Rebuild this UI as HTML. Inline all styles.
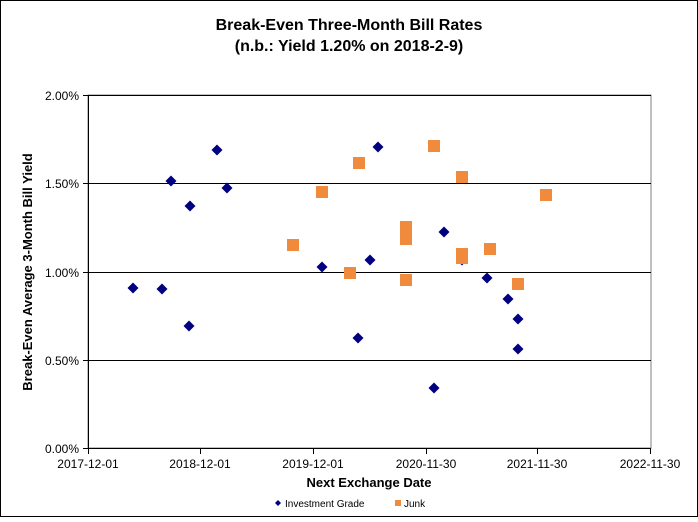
<!DOCTYPE html>
<html><head><style>
body{margin:0;background:#fff}
svg text{font-family:"Liberation Sans",Arial,sans-serif}
</style></head><body>
<svg width="698" height="517" xmlns="http://www.w3.org/2000/svg">
<rect x="0.5" y="0.5" width="697" height="516" fill="#fff" stroke="#000"/>
<text x="349" y="30" text-anchor="middle" font-size="16" font-weight="bold">Break-Even Three-Month Bill Rates</text>
<text x="349" y="51" text-anchor="middle" font-size="16" font-weight="bold">(n.b.: Yield 1.20% on 2018-2-9)</text>
<rect x="88" y="95" width="563" height="353" fill="#fff" stroke="#808080"/>
<g stroke="#000" stroke-width="1">
<line x1="88" y1="95.5" x2="651" y2="95.5"/>
<line x1="88" y1="183.5" x2="651" y2="183.5"/>
<line x1="88" y1="272.5" x2="651" y2="272.5"/>
<line x1="88" y1="360.5" x2="651" y2="360.5"/>
<line x1="88" y1="448.5" x2="651" y2="448.5"/>
<line x1="88.5" y1="95" x2="88.5" y2="448"/>
<line x1="83" y1="95.5" x2="88" y2="95.5"/><line x1="83" y1="183.5" x2="88" y2="183.5"/><line x1="83" y1="272.5" x2="88" y2="272.5"/><line x1="83" y1="360.5" x2="88" y2="360.5"/><line x1="83" y1="448.5" x2="88" y2="448.5"/>
<line x1="88.5" y1="448" x2="88.5" y2="454"/><line x1="200.5" y1="448" x2="200.5" y2="454"/><line x1="313.5" y1="448" x2="313.5" y2="454"/><line x1="426.5" y1="448" x2="426.5" y2="454"/><line x1="537.5" y1="448" x2="537.5" y2="454"/><line x1="650.5" y1="448" x2="650.5" y2="454"/>
</g>
<g font-size="12" text-anchor="end">
<text x="79" y="100">2.00%</text><text x="79" y="188">1.50%</text><text x="79" y="277">1.00%</text><text x="79" y="365">0.50%</text><text x="79" y="453">0.00%</text>
</g>
<g font-size="12" text-anchor="middle">
<text x="88" y="468">2017-12-01</text><text x="200" y="468">2018-12-01</text><text x="313" y="468">2019-12-01</text><text x="426" y="468">2020-11-30</text><text x="537" y="468">2021-11-30</text><text x="650" y="468">2022-11-30</text>
</g>
<text x="369" y="487" text-anchor="middle" font-size="13" font-weight="bold">Next Exchange Date</text>
<text transform="translate(32,272) rotate(-90)" text-anchor="middle" font-size="13" font-weight="bold">Break-Even Average 3-Month Bill Yield</text>
<g fill="#000080">
<path id="d" d="M0,-5.5L5.5,0L0,5.5L-5.5,0Z" transform="translate(133,288)"/>
<path d="M0,-5.5L5.5,0L0,5.5L-5.5,0Z" transform="translate(162,289)"/>
<path d="M0,-5.5L5.5,0L0,5.5L-5.5,0Z" transform="translate(171,181)"/>
<path d="M0,-5.5L5.5,0L0,5.5L-5.5,0Z" transform="translate(190,206)"/>
<path d="M0,-5.5L5.5,0L0,5.5L-5.5,0Z" transform="translate(189,326)"/>
<path d="M0,-5.5L5.5,0L0,5.5L-5.5,0Z" transform="translate(217,150)"/>
<path d="M0,-5.5L5.5,0L0,5.5L-5.5,0Z" transform="translate(227,188)"/>
<path d="M0,-5.5L5.5,0L0,5.5L-5.5,0Z" transform="translate(322,267)"/>
<path d="M0,-5.5L5.5,0L0,5.5L-5.5,0Z" transform="translate(358,338)"/>
<path d="M0,-5.5L5.5,0L0,5.5L-5.5,0Z" transform="translate(370,260)"/>
<path d="M0,-5.5L5.5,0L0,5.5L-5.5,0Z" transform="translate(378,147)"/>
<path d="M0,-5.5L5.5,0L0,5.5L-5.5,0Z" transform="translate(434,388)"/>
<path d="M0,-5.5L5.5,0L0,5.5L-5.5,0Z" transform="translate(444,232)"/>
<path d="M0,-5.5L5.5,0L0,5.5L-5.5,0Z" transform="translate(462,260)"/>
<path d="M0,-5.5L5.5,0L0,5.5L-5.5,0Z" transform="translate(487,278)"/>
<path d="M0,-5.5L5.5,0L0,5.5L-5.5,0Z" transform="translate(508,299)"/>
<path d="M0,-5.5L5.5,0L0,5.5L-5.5,0Z" transform="translate(518,319)"/>
<path d="M0,-5.5L5.5,0L0,5.5L-5.5,0Z" transform="translate(518,349)"/>
</g>
<g fill="#F08A3C">
<rect x="287" y="239" width="12" height="12"/>
<rect x="316" y="186" width="12" height="12"/>
<rect x="344" y="267" width="12" height="12"/>
<rect x="353" y="157" width="12" height="12"/>
<rect x="400" y="221" width="12" height="12"/>
<rect x="400" y="233" width="12" height="12"/>
<rect x="400" y="274" width="12" height="12"/>
<rect x="428" y="140" width="12" height="12"/>
<rect x="456" y="171" width="12" height="12"/>
<rect x="456" y="248" width="12" height="12"/>
<rect x="456" y="252" width="12" height="12"/>
<rect x="484" y="243" width="12" height="12"/>
<rect x="512" y="278" width="12" height="12"/>
<rect x="540" y="189" width="12" height="12"/>
</g>
<path d="M278,500L281,503L278,506L275,503Z" fill="#000080"/>
<text x="285" y="507" font-size="10">Investment Grade</text>
<rect x="395" y="500" width="6" height="6" fill="#F08A3C"/>
<text x="404" y="507" font-size="10">Junk</text>
</svg>
</body></html>
